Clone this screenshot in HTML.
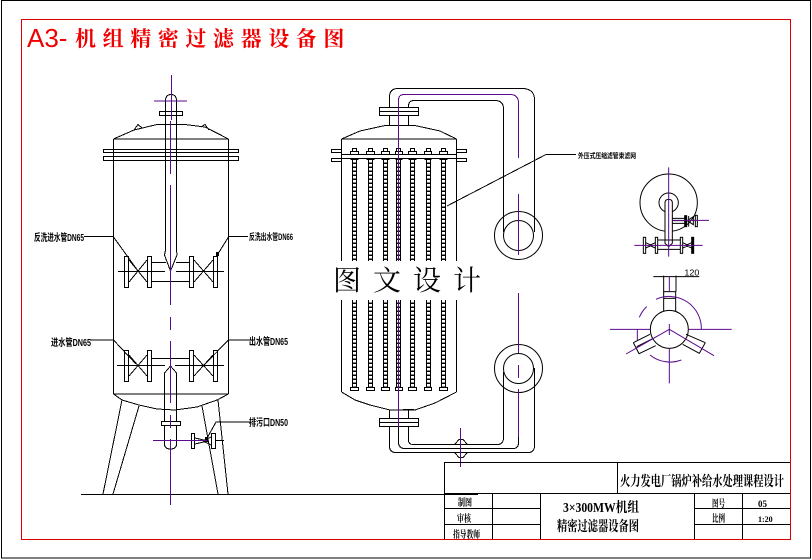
<!DOCTYPE html>
<html><head><meta charset="utf-8"><style>
html,body{margin:0;padding:0;background:#fff;width:812px;height:560px;overflow:hidden}
svg{display:block}
.k{fill:none;stroke:#000;stroke-width:1}
.p{fill:none;stroke:#5a0a8c;stroke-width:1}
.w{fill:#fff;stroke:#000;stroke-width:1}
text{font-family:"Liberation Sans","Noto Sans CJK SC",sans-serif;fill:#000}
.s{font-family:"Liberation Serif","Noto Serif CJK SC",serif;font-weight:bold}
</style></head><body>
<svg width="812" height="560" viewBox="0 0 812 560" xmlns="http://www.w3.org/2000/svg">
<rect width="812" height="560" fill="#fff"/>
<g shape-rendering="crispEdges">
<rect x="1.5" y="0.5" width="809" height="557.5" fill="none" stroke="#000"/>
<rect x="21.5" y="19.5" width="769" height="520" fill="none" stroke="#e00000"/>
<path class="k" d="M81 494.5H444"/>
</g>
<text x="27" y="47" font-size="26" style="fill:#f00000">A3-</text>
<text x="75" y="46" font-size="21" font-weight="bold" letter-spacing="6.600" style="fill:#f00000;font-family:'Noto Serif CJK SC',serif">机组精密过滤器设备图</text>

<!-- LEFT VESSEL -->
<g shape-rendering="crispEdges">
<path class="k" d="M113.500 139V394M228.500 139V394M113.500 139H228.500M113.500 394H228.500"/>
<path class="k" d="M113.500 139L134 130L157 124.500H185L205 127L228.500 139"/>
<path class="k" d="M134 130L138 124.500L142 128M201 127L205 124.500L209 130"/>
<rect class="k" x="103.500" y="149.500" width="135" height="3"/>
<rect class="k" x="103.500" y="156.500" width="135" height="4"/>
<path class="k" d="M165.500 101Q165.500 94.500 171 94.500Q176.500 94.500 176.500 101V250L177 255L170.500 271L164.500 255L165.500 250V101"/>
<rect class="k" x="159.500" y="111.500" width="23" height="4"/>
<path class="k" d="M152 262.500H166M176 262.500H189M152 281.500H190"/>
<rect class="w" x="124.500" y="256.500" width="4" height="31"/><rect class="w" x="147.500" y="256.500" width="4" height="31"/>
<rect class="w" x="189.500" y="256.500" width="4" height="31"/><rect class="w" x="213.500" y="256.500" width="4" height="31"/>
<path class="k" d="M118 271.500H165M176 271.500H224M129 260L147 282M147 260L129 282M194 260L213 282M213 260L194 282"/>
<path class="k" d="M113.500 237L138 271M228.500 237L216 257"/>
<rect x="216" y="252" width="3" height="4" fill="#000"/>
<rect class="w" x="124.500" y="350.500" width="4" height="31"/><rect class="w" x="147.500" y="350.500" width="4" height="31"/>
<rect class="w" x="189.500" y="350.500" width="4" height="31"/><rect class="w" x="213.500" y="350.500" width="4" height="31"/>
<path class="k" d="M117 365.500H165M175 365.500H224M129 355L147 376M147 355L129 376M194 355L213 376M213 355L194 376M152 358.500H189"/>
<path class="k" d="M113.500 340L136 364M228.500 340L204 365"/>
<path class="k" d="M90 340H113.500M228.500 340H250M84 236.500H113.500M228.500 236.500H248"/>
<path class="k" d="M113.500 394L122 400L139 405L157 409L175 410L197 407L217 400L228.500 394"/>
<path class="k" d="M164.500 373L170.500 366L176.500 373V444Q176.500 449 170.500 449Q164.500 449 164.500 444V373"/>
<rect class="w" x="161.500" y="421.500" width="19" height="4"/>
<path class="k" d="M122 400L103 494M139 406L113 494M202 406L218 494M218 400L228 494"/>
<rect class="w" x="191.500" y="433.500" width="3" height="15"/><rect class="w" x="211.500" y="433.500" width="4" height="15"/>
<path class="k" d="M195 438L208 441L195 444M203 441L211 437M203 441L211 445M215 440.500H224"/>
<path class="k" d="M206 440L216 422H250"/>
<rect x="205" y="437" width="3" height="5" fill="#000"/>
<path class="p" d="M171.500 75V120M154 101H187M170.500 121V174M170.500 185V305M170.500 317V330M170.500 341V403M170.500 415V428M170.500 439V505M153 440.500H207"/>
</g>
<text x="34" y="241" font-size="10" textLength="50" lengthAdjust="spacingAndGlyphs" font-weight="bold">反洗进水管DN65</text>
<text x="249" y="240" font-size="9" textLength="44" lengthAdjust="spacingAndGlyphs" font-weight="bold">反洗出水管DN66</text>
<text x="51" y="346" font-size="10" textLength="40" lengthAdjust="spacingAndGlyphs" font-weight="bold">进水管DN65</text>
<text x="249" y="345" font-size="10" textLength="39" lengthAdjust="spacingAndGlyphs" font-weight="bold">出水管DN65</text>
<text x="249" y="426" font-size="10" textLength="39" lengthAdjust="spacingAndGlyphs" font-weight="bold">排污口DN50</text>

<!-- RIGHT VESSEL -->
<g shape-rendering="crispEdges">
<path class="k" d="M341.500 139V392M456.500 139V392M341.500 139H456.500"/>
<path class="k" d="M341.500 139L360 131L385 125.500H415L440 131L456.500 139"/>
<rect class="k" x="331.500" y="149.500" width="10" height="3"/><rect class="k" x="331.500" y="158.500" width="10" height="3"/>
<rect class="k" x="456.500" y="149.500" width="10" height="3"/><rect class="k" x="456.500" y="158.500" width="10" height="3"/>
<path class="k" d="M341.500 154.500H456.500M341.500 158.500H456.500"/>
<path class="k" d="M389.500 125V115M408.500 125V115"/>
<rect class="w" x="379.500" y="107.500" width="39" height="8"/>
<path class="k" d="M379.500 111.500H418.500"/>
<path class="k" d="M389.500 107V97Q389.500 88.500 398 88.500H522Q534.500 88.500 534.500 100V232"/>
<path class="k" d="M408.500 107V106Q408.500 100.500 414 100.500H495Q503.500 100.500 503.500 109V232"/>
<path class="k" d="M341.500 392L355 400L370 405L390 410H415L435 403L456.500 392"/>
<path class="k" d="M389.500 410V418M408.500 410V418M403 409.500H414"/>
<rect class="w" x="379.500" y="418.500" width="39" height="8"/>
<path class="k" d="M379.500 422.500H418.500"/>
<path class="k" d="M389.500 427V446Q389.500 452.500 396 452.500H528Q534.500 452.500 534.500 446V368"/>
<path class="k" d="M398.500 427V442Q398.500 448.500 405 448.500H513Q518.500 448.500 518.500 443V437"/>
<path class="k" d="M408.500 427V440Q408.500 444.500 413 444.500H497Q503.500 444.500 503.500 438V372"/>
<path class="k" d="M455 444L459 439.500H463L467 444M455 453L459 457.500H463L467 453"/>
<path class="k" d="M447 206L546 154.500H576"/>
</g>
<!-- filter tubes -->
<g fill="none" stroke="#000" stroke-width="5" shape-rendering="crispEdges">
<path d="M354.500 160V388M370.500 160V388M385.500 160V388M398.500 160V388M412.500 160V388M428.500 160V388M443.500 160V388"/>
</g>
<g fill="none" stroke="#fff" stroke-width="2.600" stroke-dasharray="2.500 1.500" shape-rendering="crispEdges">
<path d="M354.500 160V388M370.500 160V388M385.500 160V388M398.500 160V388M412.500 160V388M428.500 160V388M443.500 160V388"/>
</g>
<g shape-rendering="crispEdges">
<rect class="w" x="350.500" y="387.500" width="8" height="3"/><rect class="w" x="366.500" y="387.500" width="8" height="3"/><rect class="w" x="381.500" y="387.500" width="8" height="3"/><rect class="w" x="395.500" y="387.500" width="7" height="3"/><rect class="w" x="408.500" y="387.500" width="8" height="3"/><rect class="w" x="424.500" y="387.500" width="7" height="3"/><rect class="w" x="439.500" y="387.500" width="8" height="3"/>
<rect class="w" x="350.500" y="151.500" width="8" height="3"/><rect class="w" x="366.500" y="151.500" width="8" height="3"/><rect class="w" x="381.500" y="151.500" width="8" height="3"/><rect class="w" x="395.500" y="151.500" width="7" height="3"/><rect class="w" x="408.500" y="151.500" width="8" height="3"/><rect class="w" x="424.500" y="151.500" width="7" height="3"/><rect class="w" x="439.500" y="151.500" width="8" height="3"/>
<rect class="w" x="352.500" y="148.500" width="4" height="3"/><rect class="w" x="368.500" y="148.500" width="4" height="3"/><rect class="w" x="383.500" y="148.500" width="4" height="3"/><rect class="w" x="396.500" y="148.500" width="4" height="3"/><rect class="w" x="410.500" y="148.500" width="4" height="3"/><rect class="w" x="426.500" y="148.500" width="4" height="3"/><rect class="w" x="441.500" y="148.500" width="4" height="3"/>
<g fill="#000"><rect x="350.500" y="158" width="8" height="2"/><rect x="366.500" y="158" width="8" height="2"/><rect x="381.500" y="158" width="8" height="2"/><rect x="395.500" y="158" width="7" height="2"/><rect x="408.500" y="158" width="8" height="2"/><rect x="424.500" y="158" width="7" height="2"/><rect x="439.500" y="158" width="8" height="2"/></g>
</g>
<circle class="k" cx="518.500" cy="235.500" r="24"/><circle class="k" cx="518.500" cy="235.500" r="15"/>
<circle class="k" cx="518.500" cy="368.500" r="24"/><circle class="k" cx="518.500" cy="368.500" r="15"/>
<path class="p" d="M398.500 100V427M398.500 100Q398.500 94.500 404 94.500H510Q518.500 94.500 518.500 103V158M518.500 194V255M518.500 293V353M518.500 365V378M518.500 389V437M460.500 428V467" shape-rendering="crispEdges"/>
<text x="578" y="158" font-size="7" textLength="58" lengthAdjust="spacingAndGlyphs" font-weight="bold">外压式压缩滤管束滤网</text>
<rect x="330" y="261" width="160" height="39" fill="#fff"/>
<text x="333" y="290" font-size="28" letter-spacing="12" style="font-family:'Noto Serif CJK SC',serif">图文设计</text>

<!-- SIDE VIEW -->
<g transform="translate(590 150) scale(.33333)">
<g fill="none" stroke="#000" stroke-width="3">
<circle cx="236" cy="158" r="86"/><circle cx="236" cy="158" r="29"/>
<path d="M225 280V158Q225 148 236 148Q247 148 247 158V280L236 290Z" fill="#fff"/>
<path d="M247 205H285M247 212H285M247 220H285M292 212L310 200V224L292 212M296 198V230"/>
<rect x="284" y="197" width="6" height="33" fill="#000"/><rect x="316" y="196" width="6" height="34" fill="#fff"/>
<rect x="160" y="262" width="7" height="48" fill="#fff"/><rect x="196" y="262" width="7" height="48" fill="#fff"/>
<rect x="271" y="262" width="7" height="48" fill="#fff"/><rect x="305" y="262" width="6" height="48" fill="#000"/>
<path d="M167 278L185 286L167 294M196 278L178 286L196 294M278 278L296 286L278 294M305 278L287 286L305 294M203 270H271M203 298H271"/>
<path d="M221 377V425M258 377V425"/>
<rect x="221" y="425" width="36" height="58"/><path d="M221 445H257"/>
<circle cx="238" cy="538" r="57" fill="#fff"/>
<path d="M190 565L140 590M180 553L130 578M130 578L147 611L197 587M288 553L346 578M346 578L328 610L278 583"/>
<path d="M190 380H328"/>
</g>
<g fill="none" stroke="#5a0a8c" stroke-width="3">
<path d="M236 52V320M133 286H338M248 211H357"/>
<path d="M238 378V425M238 522V555M238 595V700M60 538H180M296 538H425M108 612L238 538L372 617"/>
<path d="M198 448A96 96 0 0 1 334 538M170 470A96 96 0 0 0 148 502M142 538V570M180 615A96 96 0 0 0 274 630"/>
</g>
<text x="283" y="377" font-size="26" stroke="none" textLength="45" lengthAdjust="spacingAndGlyphs">120</text>
</g>

<!-- TITLE BLOCK -->
<g shape-rendering="crispEdges">
<path class="k" d="M444.500 462.500H790M617.500 462V493M444.500 462V539M444.500 493.500H790M478 494.500H444.500M492.500 494V539M540.500 494V539M694.500 494V539M742.500 494V539M444.500 508.500H540M444.500 524.500H540M694.500 508.500H790M694.500 524.500H790"/>
</g>
<text x="620" y="486" font-size="14" class="s" textLength="164" lengthAdjust="spacingAndGlyphs">火力发电厂锅炉补给水处理课程设计</text>
<text x="563" y="512" font-size="14" class="s" textLength="76" lengthAdjust="spacingAndGlyphs">3×300MW机组</text>
<text x="557" y="531" font-size="14" class="s" textLength="82" lengthAdjust="spacingAndGlyphs">精密过滤器设备图</text>
<text x="458" y="506" font-size="10" class="s" textLength="14" lengthAdjust="spacingAndGlyphs">制图</text>
<text x="457" y="522" font-size="10" class="s" textLength="14" lengthAdjust="spacingAndGlyphs">审核</text>
<text x="453" y="538" font-size="10" class="s" textLength="27" lengthAdjust="spacingAndGlyphs">指导教师</text>
<text x="712" y="507" font-size="10" class="s" textLength="13" lengthAdjust="spacingAndGlyphs">图号</text>
<text x="712" y="522" font-size="10" class="s" textLength="13" lengthAdjust="spacingAndGlyphs">比例</text>
<text x="758" y="507" font-size="9" class="s">05</text>
<text x="758" y="522" font-size="8" class="s">1:20</text>
</svg>
</body></html>
